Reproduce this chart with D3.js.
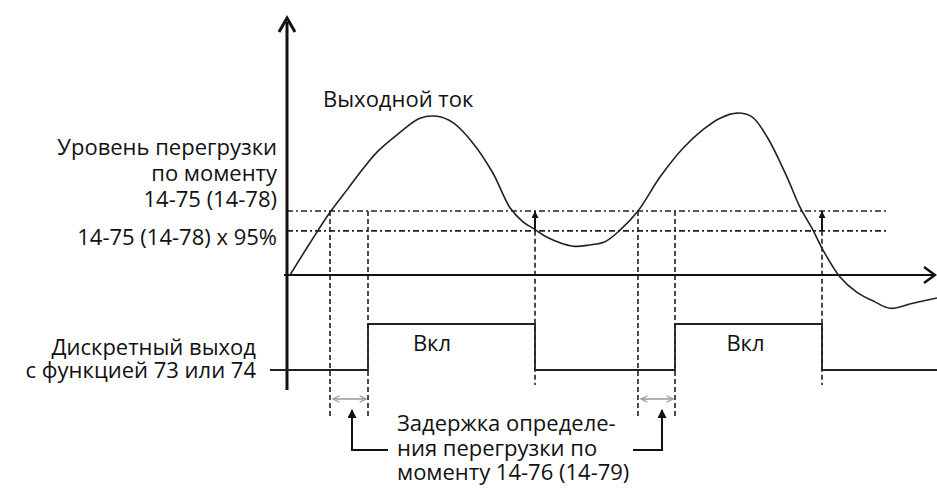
<!DOCTYPE html>
<html><head><meta charset="utf-8">
<script src="https://cdn.jsdelivr.net/npm/d3@7"></script>
<style>html,body{margin:0;padding:0;background:#fff;} svg{display:block;}</style>
</head><body><div id="chart"></div>
<script>
// ---- data ----
const curveTime = [3,23,43,60,75,90,110,133,150,166,186,206,223,236,247,260,286,303,318,333,351,373,396,416,433,450,465,480,500,513,526,536,553,570,588,603,626,650];
const curveValue = [0,50,98,133,164,192,219,245,248,238,206,159,105,83,72,59,45,47,52,70,100,153,198,227,245,253,247,216,153,106,70,39,-3,-27,-42,-52,-44,-36];
const levelValues = [100, 69];           // overload level, level x 95%
const riseTimes = [43, 351];             // current crosses overload level
const onTimes = [81, 388];               // output switches on after delay
const offTimes = [248, 535];             // current falls below 95% level
const outputLabels = ["Вкл", "Вкл"];
const labelLevel = ["Уровень перегрузки", "по моменту", "14-75 (14-78)"];
const labelLevel95 = "14-75 (14-78) x 95%";
const labelCurrent = "Выходной ток";
const labelOutput = ["Дискретный выход", "с функцией 73 или 74"];
const labelDelay = ["Задержка определе-", "ния перегрузки по", "моменту 14-76 (14-79)"];

const W = 937, H = 488;
const svg = d3.select("#chart").append("svg").attr("width", W).attr("height", H);
const x = d3.scaleLinear().domain([0, 650]).range([287, 937]);
const y = d3.scaleLinear().domain([0, 100]).range([275, 211]);
const yOut = d3.scaleLinear().domain([0, 1]).range([370, 324]);
const font = "'Open Sans', sans-serif";
const fs = 22;

const defs = svg.append("defs");
defs.append("marker").attr("id","up").attr("viewBox","0 0 10 10").attr("refX",10).attr("refY",5)
  .attr("markerWidth",8).attr("markerHeight",7).attr("orient","auto").attr("markerUnits","userSpaceOnUse")
  .append("path").attr("d","M0,0 L10,5 L0,10 Z").attr("fill","#111");
defs.append("marker").attr("id","grey").attr("viewBox","0 0 10 10").attr("refX",9).attr("refY",5)
  .attr("markerWidth",8).attr("markerHeight",8).attr("orient","auto-start-reverse").attr("markerUnits","userSpaceOnUse")
  .append("path").attr("d","M1,1 L9,5 L1,9").attr("fill","none").attr("stroke","#999").attr("stroke-width",1.5);
defs.append("marker").attr("id","blk").attr("viewBox","0 0 10 10").attr("refX",9).attr("refY",5)
  .attr("markerWidth",10).attr("markerHeight",9).attr("orient","auto").attr("markerUnits","userSpaceOnUse")
  .append("path").attr("d","M0,0 L10,5 L0,10 Z").attr("fill","#111");

// level lines
svg.selectAll(".lvl").data(levelValues).enter().append("line")
  .attr("x1", x(0)).attr("x2", x(600)).attr("y1", d => y(d)).attr("y2", d => y(d))
  .attr("stroke","#222").attr("stroke-width",1.6).attr("stroke-dasharray","6,3,2,3");

// vertical dashed guides
const guides = [];
riseTimes.forEach(t => guides.push({t, y1: y(levelValues[0]), y2: 418}));
onTimes.forEach(t => guides.push({t, y1: y(levelValues[0]), y2: 418}));
offTimes.forEach(t => guides.push({t, y1: y(levelValues[1]), y2: 385}));
svg.selectAll(".g").data(guides).enter().append("line")
  .attr("x1", d => x(d.t)).attr("x2", d => x(d.t)).attr("y1", d => d.y1).attr("y2", d => d.y2)
  .attr("stroke","#222").attr("stroke-width",1.6).attr("stroke-dasharray","5,3");

// small up arrows at off times
svg.selectAll(".ua").data(offTimes).enter().append("line")
  .attr("x1", d => x(d)).attr("x2", d => x(d)).attr("y1", y(levelValues[1])).attr("y2", y(levelValues[0]))
  .attr("stroke","#111").attr("stroke-width",2).attr("marker-end","url(#up)");

// axes
svg.append("line").attr("x1",287).attr("x2",287).attr("y1",22).attr("y2",390).attr("stroke","#111").attr("stroke-width",3);
svg.append("path").attr("d","M279,32 L287,18 L295,32").attr("fill","none").attr("stroke","#111").attr("stroke-width",3);
svg.append("line").attr("x1",284).attr("x2",934).attr("y1",y(0)).attr("y2",y(0)).attr("stroke","#111").attr("stroke-width",2);
svg.append("path").attr("d",`M924,${y(0)-8} L935,${y(0)} L924,${y(0)+8}`).attr("fill","none").attr("stroke","#111").attr("stroke-width",2.5);

// current curve
const pts = curveTime.map((t,i) => [t, curveValue[i]]);
svg.append("path").datum(pts)
  .attr("d", d3.line().x(d => x(d[0])).y(d => y(d[1])).curve(d3.curveCatmullRom.alpha(0.5)))
  .attr("fill","none").attr("stroke","#222").attr("stroke-width",1.6);

// digital output
const outPts = [[ -17, 0 ]];
onTimes.forEach((t,i) => { outPts.push([t,0],[t,1],[offTimes[i],1],[offTimes[i],0]); });
outPts.push([650,0]);
svg.append("path").datum(outPts)
  .attr("d", d3.line().x(d => x(d[0])).y(d => yOut(d[1])))
  .attr("fill","none").attr("stroke","#222").attr("stroke-width",1.8);

// on labels
svg.selectAll(".on").data(outputLabels).enter().append("text")
  .attr("x",(d,i) => i===0 ? x(onTimes[i]) + 64 : (x(onTimes[i]) + x(offTimes[i]))/2 - 3)
  .attr("y", 351).attr("text-anchor","middle").attr("font-family",font).attr("font-size",fs).attr("fill","#111").text(d => d);

// delay double arrows
riseTimes.forEach((t,i) => {
  svg.append("line").attr("x1", x(t)+3).attr("x2", x(onTimes[i])-2).attr("y1",399).attr("y2",399)
    .attr("stroke","#999").attr("stroke-width",1.5).attr("marker-start","url(#grey)").attr("marker-end","url(#grey)");
});

// delay pointer arrows
const ptr = [{px: x(riseTimes[0]) + 22, hx: 388}, {px: x(onTimes[1]) - 13, hx: 633}];
ptr.forEach(p => {
  svg.append("path").attr("d",`M${p.hx},450 L${p.px},450 L${p.px},410`).attr("fill","none")
    .attr("stroke","#111").attr("stroke-width",2).attr("marker-end","url(#blk)");
});

// texts (multi-line labels as one text element with tspans)
function block(lines, xx, y0, dy, anchor) {
  const t = svg.append("text").attr("font-family",font).attr("font-size",fs).attr("fill","#111")
    .attr("text-anchor", anchor).attr("x", xx).attr("y", y0);
  lines.forEach((s,i) => t.append("tspan").attr("x", xx).attr("y", y0 + i*dy).text(s));
}
block([labelCurrent], 323, 107, 0, "start");
block(labelLevel, 277, 155, 26, "end");
block([labelLevel95], 277, 245, 0, "end");
block(labelOutput, 256, 355, 23, "end");
block(labelDelay, 397, 431, 24.5, "start");
</script></body></html>
